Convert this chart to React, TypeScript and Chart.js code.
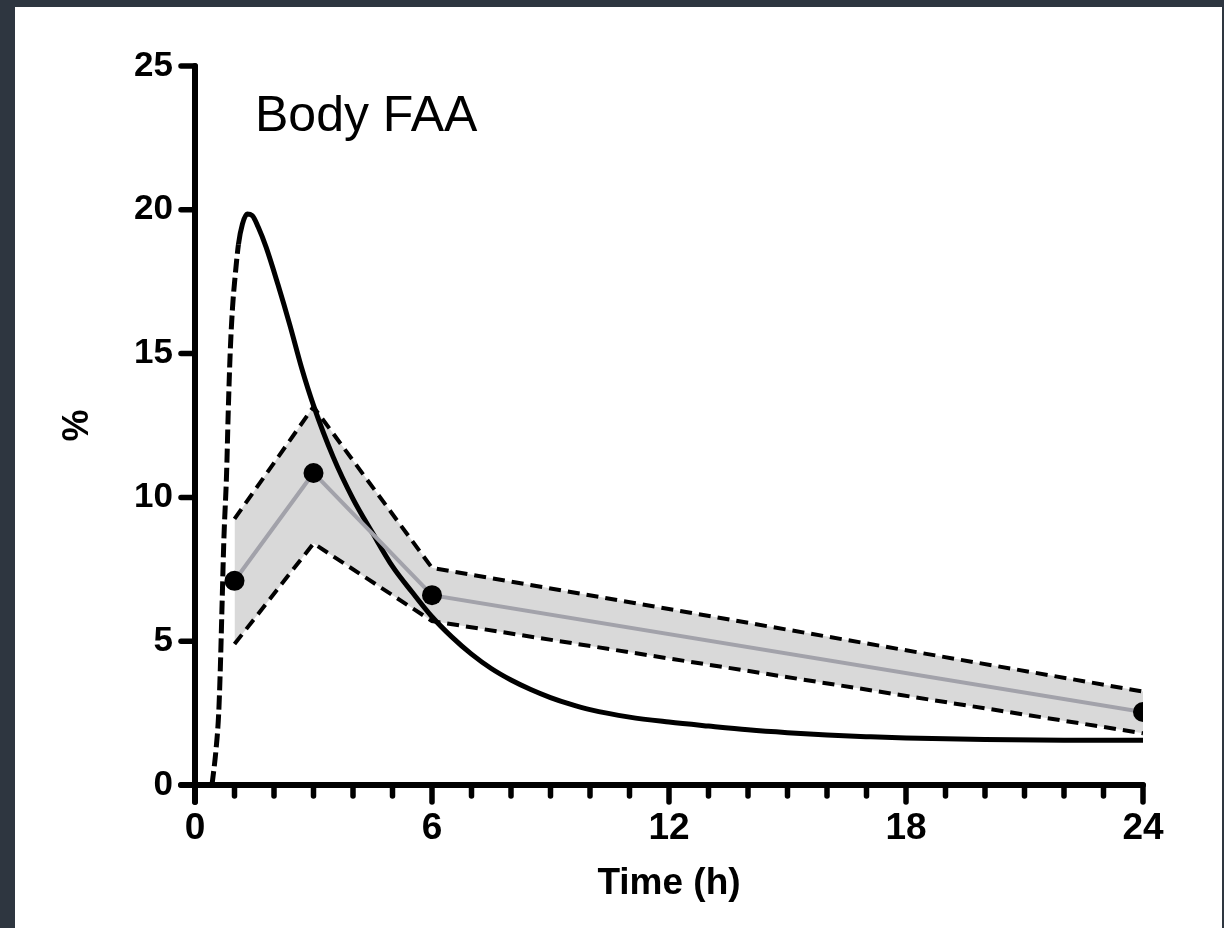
import React, { useEffect, useRef } from 'react';
import { Chart, registerables } from 'chart.js';

Chart.register(...registerables);

// ---- data ----
const chartTitle = 'Body FAA';
const xAxisTitle = 'Time (h)';
const yAxisTitle = '%';

const meanTimes = [1, 3, 6, 24];
const meanValues = [7.1, 10.85, 6.6, 2.54];
const upperValues = [9.25, 13.15, 7.55, 3.25];
const lowerValues = [4.9, 8.4, 5.7, 1.8];

const modelTimes = [
  0.43, 0.53, 0.6, 0.64, 0.68, 0.73, 0.8, 0.84, 0.89, 0.95, 1.01, 1.1, 1.2, 1.32,
  1.45, 1.6, 1.8, 2.1, 2.4, 2.7, 3.0, 3.5, 4.0, 4.5, 5.0, 5.5, 6.0, 6.5,
  7.0, 7.5, 8.0, 8.5, 9.0, 9.5, 10, 11, 12, 13, 14, 15, 16, 17, 18, 20, 22, 24,
];
const modelValues = [
  0, 1.2, 2.5, 4, 6, 8.5, 10.85, 12.9, 15, 16.6, 17.6, 18.8, 19.5, 19.85,
  19.8, 19.4, 18.7, 17.4, 16.0, 14.5, 13.2, 11.4, 9.95, 8.75, 7.6, 6.7, 5.85, 5.15,
  4.55, 4.05, 3.65, 3.32, 3.04, 2.81, 2.62, 2.36, 2.19, 2.05, 1.92, 1.82, 1.74, 1.68, 1.63, 1.58, 1.56, 1.56,
];
const dashedModelEnd = 1.03;

const xTickValues = [0, 6, 12, 18, 24];
const xMinorTicks = [0, 1, 2, 3, 4, 5, 6, 7, 8, 9, 10, 11, 12, 13, 14, 15, 16, 17, 18, 19, 20, 21, 22, 23, 24];
const yTickValues = [0, 5, 10, 15, 20, 25];

const FONT = '"Liberation Sans", Arial, Helvetica, sans-serif';

const axesPlugin = {
  id: 'customAxes',
  afterDatasetsDraw(chart: any) {
    const { ctx, scales, chartArea } = chart;
    const xs = scales.x;
    const ys = scales.y;
    const x0 = xs.getPixelForValue(xTickValues[0]);
    const xEnd = xs.getPixelForValue(xTickValues[xTickValues.length - 1]);
    const y0 = ys.getPixelForValue(yTickValues[0]);
    const yTop = ys.getPixelForValue(yTickValues[yTickValues.length - 1]);
    ctx.save();
    ctx.strokeStyle = '#000';
    ctx.lineCap = 'round';
    ctx.lineWidth = 6;
    ctx.beginPath();
    ctx.moveTo(x0, yTop);
    ctx.lineTo(x0, y0 + 17);
    ctx.stroke();
    ctx.beginPath();
    ctx.moveTo(x0 - 14, y0);
    ctx.lineTo(xEnd, y0);
    ctx.stroke();
    ctx.lineWidth = 5.5;
    for (const v of yTickValues) {
      const py = ys.getPixelForValue(v);
      ctx.beginPath();
      ctx.moveTo(x0 - 14, py);
      ctx.lineTo(x0, py);
      ctx.stroke();
    }
    for (const v of xMinorTicks) {
      const px = xs.getPixelForValue(v);
      const len = xTickValues.includes(v) ? 17 : 11;
      ctx.beginPath();
      ctx.moveTo(px, y0);
      ctx.lineTo(px, y0 + len);
      ctx.stroke();
    }
    ctx.fillStyle = '#000';
    ctx.font = `50px ${FONT}`;
    ctx.textBaseline = 'alphabetic';
    ctx.textAlign = 'left';
    ctx.fillText(chartTitle, chartArea.left + 60, chartArea.top + 65);
    ctx.restore();
  },
};

export default function App() {
  const ref = useRef<HTMLCanvasElement>(null);

  useEffect(() => {
    const toXY = (ts: number[], vs: number[]) => ts.map((t, i) => ({ x: t, y: vs[i] }));
    const chart = new Chart(ref.current as HTMLCanvasElement, {
      type: 'line',
      data: {
        datasets: [
          {
            label: 'lower',
            data: toXY(meanTimes, lowerValues),
            borderColor: '#000',
            borderWidth: 4,
            borderDash: [12, 7],
            pointRadius: 0,
            fill: false,
            order: 3,
          },
          {
            label: 'upper',
            data: toXY(meanTimes, upperValues),
            borderColor: '#000',
            borderWidth: 4,
            borderDash: [12, 7],
            pointRadius: 0,
            fill: '-1',
            backgroundColor: '#d9d9d9',
            order: 3,
          },
          {
            label: 'model',
            data: toXY(modelTimes, modelValues),
            borderColor: '#000',
            borderWidth: 5,
            pointRadius: 0,
            fill: false,
            cubicInterpolationMode: 'monotone',
            segment: {
              borderDash: (c: any) => (c.p0.parsed.x < dashedModelEnd ? [14, 5] : []),
            },
            order: 1,
          },
          {
            label: 'mean',
            data: toXY(meanTimes, meanValues),
            borderColor: '#a2a2aa',
            borderWidth: 4,
            pointRadius: 10,
            pointBackgroundColor: '#000',
            pointBorderWidth: 0,
            fill: false,
            order: 0,
          },
        ] as any,
      },
      options: {
        responsive: false,
        animation: false,
        layout: { padding: { left: 20, top: 59, right: 79, bottom: 0 } },
        plugins: {
          legend: { display: false },
          tooltip: { enabled: false },
          filler: { drawTime: 'beforeDatasetsDraw' },
        } as any,
        scales: {
          x: {
            type: 'linear',
            min: 0,
            max: 24,
            grid: { display: false, drawTicks: true, tickLength: 12 },
            border: { display: false },
            ticks: {
              stepSize: 6,
              padding: 10,
              color: '#000',
              font: { family: FONT, size: 37, weight: 'bold' },
              maxRotation: 0,
            },
            title: {
              display: true,
              text: xAxisTitle,
              color: '#000',
              font: { family: FONT, size: 37, weight: 'bold' },
              padding: { top: 4, bottom: 22 },
            },
            afterFit: (s: any) => {
              s.height = 143;
            },
          },
          y: {
            type: 'linear',
            min: 0,
            max: 25,
            grid: { display: false, drawTicks: true, tickLength: 12 },
            border: { display: false },
            ticks: {
              stepSize: 5,
              padding: 10,
              color: '#000',
              font: { family: FONT, size: 35, weight: 'bold' },
            },
            title: {
              display: true,
              text: yAxisTitle,
              color: '#000',
              font: { family: FONT, size: 36, weight: 'bold' },
              padding: { top: 21, bottom: 4 },
            },
            afterFit: (s: any) => {
              s.width = 160;
            },
          },
        } as any,
      },
      plugins: [axesPlugin],
    });
    return () => chart.destroy();
  }, []);

  return (
    <div style={{ position: 'fixed', left: 0, top: 0, width: 1224, height: 928, background: '#2e3640' }}>
      <div style={{ position: 'absolute', left: 15, top: 7, width: 1207, height: 921, background: '#ffffff' }}>
        <canvas ref={ref} width={1207} height={921} style={{ display: 'block', width: 1207, height: 921 }} />
      </div>
    </div>
  );
}
